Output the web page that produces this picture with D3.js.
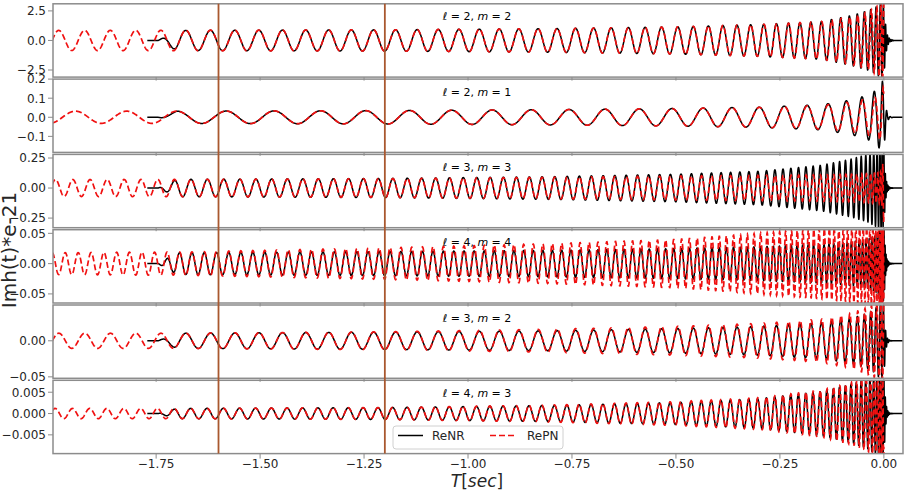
<!DOCTYPE html>
<html>
<head>
<meta charset="utf-8">
<script src="https://cdn.jsdelivr.net/npm/d3@7"></script>
<style>
  body { margin: 0; background: #fff; }
  text { font-family: "DejaVu Sans", sans-serif; }
</style>
</head>
<body>
<div id="chart"></div>
<script>
// x axis (time, s)
const xTicks = [-1.75, -1.5, -1.25, -1.0, -0.75, -0.5, -0.25, 0.0];
const markerTimes = [-1.6, -1.2];

// modes, one panel each
const modeL = [2, 2, 3, 4, 3, 4];
const modeM = [2, 1, 3, 4, 2, 3];
const yDomains = [[-3.1, 3.1], [-0.184, 0.2], [-0.33, 0.28], [-0.065, 0.056], [-0.052, 0.0496], [-0.0094, 0.0078]];
const yTicks = [[-2.5, 0, 2.5], [-0.1, 0, 0.1, 0.2], [-0.25, 0, 0.25], [-0.05, 0, 0.05], [-0.05, 0], [-0.005, 0, 0.005]];
const yDigits = [1, 1, 2, 2, 2, 3];

// (2,2) GW frequency (Hz), other modes run at m/2 of it
const freqT = [-2.0, -1.6, -1.2, -0.8, -0.5, -0.3, -0.15, -0.08, -0.04, -0.02, -0.01, -0.004, 0.0, 0.004, 0.01, 0.046];
const freq22 = [15.9, 17.0, 18.9, 22.0, 26.0, 31.5, 40.0, 50.0, 64.0, 82.0, 105.0, 140.0, 170.0, 220.0, 240.0, 250.0];
// PN phase lag against NR near merger (rad of the 22 phase)
const pnLagT = [-2.0, -0.4, -0.15, -0.05, -0.02, 0.0];
const pnLag = [0, 0, -0.15, -0.45, -0.9, -1.4];
// phase of each mode at the left edge
const phase0 = [-1.57, -2.81, -1.2, 0.0, -1.6, -1.06];

const nrStart = -1.772, nrEnd = 0.046, pnStart = -2.0, pnEnd = 0.0;

// envelopes
const envT = [-2.0, -1.772, -1.745, -1.70, -1.2, -0.8, -0.5, -0.3, -0.15, -0.08, -0.04, -0.02, -0.01, -0.004, 0.0, 0.004, 0.008, 0.014, 0.025, 0.046];
const nrAmp22 = [0, 0, 0, 0.85, 0.9, 1.0, 1.15, 1.35, 1.6, 2.1, 2.5, 2.8, 3.1, 3.3, 3.0, 1.4, 0.5, 0.12, 0, 0];
const pnAmp22 = [0.85, 0.86, 0.86, 0.87, 0.9, 1.0, 1.15, 1.35, 1.6, 2.0, 2.4, 2.8, 3.1, 3.4, 3.5, 0, 0, 0, 0, 0];
const nrAmp21 = [0, 0, 0, 0.032, 0.035, 0.04, 0.046, 0.053, 0.066, 0.09, 0.115, 0.14, 0.165, 0.19, 0.18, 0.07, 0.02, 0.004, 0, 0];
const pnAmp21 = [0.032, 0.032, 0.032, 0.032, 0.035, 0.04, 0.046, 0.052, 0.062, 0.08, 0.095, 0.105, 0.115, 0.13, 0.18, 0, 0, 0, 0, 0];
const nrAmp33 = [0, 0, 0, 0.072, 0.08, 0.095, 0.115, 0.14, 0.19, 0.24, 0.28, 0.32, 0.35, 0.36, 0.3, 0.1, 0.03, 0.005, 0, 0];
const pnAmp33 = [0.07, 0.072, 0.072, 0.072, 0.078, 0.09, 0.1, 0.105, 0.11, 0.115, 0.12, 0.125, 0.13, 0.15, 0.3, 0, 0, 0, 0, 0];
const nrAmp44 = [0, 0, 0, 0.018, 0.02, 0.022, 0.025, 0.028, 0.032, 0.036, 0.04, 0.046, 0.055, 0.065, 0.06, 0.02, 0.006, 0.001, 0, 0];
const pnAmp44 = [0.018, 0.019, 0.019, 0.019, 0.026, 0.033, 0.04, 0.05, 0.058, 0.064, 0.068, 0.07, 0.072, 0.075, 0.08, 0, 0, 0, 0, 0];
const nrAmp32 = [0, 0, 0, 0.0105, 0.012, 0.014, 0.017, 0.02, 0.025, 0.031, 0.038, 0.045, 0.052, 0.055, 0.05, 0.015, 0.004, 0.0005, 0, 0];
const pnAmp32 = [0.0105, 0.0105, 0.0105, 0.0105, 0.0125, 0.016, 0.02, 0.024, 0.03, 0.038, 0.046, 0.052, 0.056, 0.06, 0.06, 0, 0, 0, 0, 0];
const nrAmp43 = [0, 0, 0, 0.0012, 0.0014, 0.0019, 0.0026, 0.0035, 0.0052, 0.0068, 0.0082, 0.0095, 0.0105, 0.011, 0.01, 0.003, 0.0008, 0.0001, 0, 0];
const pnAmp43 = [0.0012, 0.0012, 0.0012, 0.0012, 0.0014, 0.002, 0.0028, 0.0037, 0.0055, 0.0072, 0.0088, 0.01, 0.011, 0.012, 0.012, 0, 0, 0, 0, 0];

const nrAmps = [nrAmp22, nrAmp21, nrAmp33, nrAmp44, nrAmp32, nrAmp43];
const pnAmps = [pnAmp22, pnAmp21, pnAmp33, pnAmp44, pnAmp32, pnAmp43];

const W = 904, H = 494;
const left = 53, right = 903, top0 = 3.8, pitch = 75.3, ph = 73.3;
const spine = "#8c8c8c", ink = "#262626", marker = "#a9582f", pnColor = "#f01010";

const svg = d3.select("#chart").append("svg")
  .attr("width", W).attr("height", H);

const x = d3.scaleLinear().domain([-1.998, 0.046]).range([left, right]);

const fScale = d3.scaleLinear().domain(freqT).range(freq22).clamp(true);
const lagScale = d3.scaleLinear().domain(pnLagT).range(pnLag).clamp(true);

// walk the 22 phase from the left edge, sample a mode between t0 and t1
function trace(k, amps, t0, t1, lagged) {
  const m = modeM[k];
  const aScale = d3.scaleLinear().domain(envT).range(amps).clamp(true);
  const pts = [];
  let t = -2.0, phi = 0;
  while (t <= t1) {
    if (t >= t0) {
      const psi = (phi + (lagged ? lagScale(t) : 0)) * m / 2 + phase0[k];
      pts.push([t, aScale(t) * Math.cos(psi)]);
    }
    const dt = Math.min(0.0008, 1 / (fScale(t) * m / 2 * 28));
    phi += 2 * Math.PI * fScale(t + dt / 2) * dt;
    t += dt;
  }
  return pts;
}

const defs = svg.append("defs");

modeM.forEach((m, k) => {
  const yTop = top0 + k * pitch;
  const y = d3.scaleLinear().domain(yDomains[k]).range([yTop + ph, yTop]);
  const g = svg.append("g");

  defs.append("clipPath").attr("id", "clip" + k)
    .append("rect").attr("x", left).attr("y", yTop).attr("width", right - left).attr("height", ph);

  const line = d3.line().x(d => x(d[0])).y(d => y(d[1]));
  const plot = g.append("g").attr("clip-path", `url(#clip${k})`);

  plot.append("path")
    .attr("d", line(trace(k, nrAmps[k], nrStart, nrEnd, false)))
    .attr("fill", "none").attr("stroke", "#000").attr("stroke-width", 1.5)
    .attr("stroke-linejoin", "round");

  plot.append("path")
    .attr("d", line(trace(k, pnAmps[k], pnStart, pnEnd, true)))
    .attr("fill", "none").attr("stroke", pnColor).attr("stroke-width", 1.7)
    .attr("stroke-dasharray", "6,3");

  // y axis
  const fmt = d3.format("." + yDigits[k] + "f");
  const yt = g.append("g");
  yTicks[k].forEach(v => {
    yt.append("line").attr("x1", left - 5).attr("x2", left)
      .attr("y1", y(v)).attr("y2", y(v)).attr("stroke", spine).attr("stroke-width", 1);
    yt.append("text").attr("x", left - 7).attr("y", y(v)).attr("dy", "0.36em")
      .attr("text-anchor", "end").attr("font-size", 12).attr("fill", ink)
      .text(fmt(v));
  });

  // x ticks on each panel
  xTicks.forEach(v => {
    g.append("line").attr("x1", x(v)).attr("x2", x(v))
      .attr("y1", yTop + ph).attr("y2", yTop + ph + (k === 5 ? 5 : 3.5))
      .attr("stroke", spine).attr("stroke-width", 1);
  });

  g.append("rect").attr("x", left).attr("y", yTop).attr("width", right - left).attr("height", ph)
    .attr("fill", "none").attr("stroke", spine).attr("stroke-width", 1.5);

  const lab = g.append("text").attr("x", 477).attr("y", yTop + 16.5)
    .attr("text-anchor", "middle").attr("font-size", 11).attr("fill", "#000");
  lab.append("tspan").attr("font-style", "italic").text("ℓ");
  lab.append("tspan").text(" = " + modeL[k] + ", ");
  lab.append("tspan").attr("font-style", "italic").text("m");
  lab.append("tspan").text(" = " + m);
});

// vertical markers across all panels
markerTimes.forEach(v => {
  svg.append("line").attr("x1", x(v)).attr("x2", x(v))
    .attr("y1", top0).attr("y2", top0 + 5 * pitch + ph)
    .attr("stroke", marker).attr("stroke-width", 1.8);
});

// bottom axis labels
const fmtX = d3.format(".2f");
xTicks.forEach(v => {
  svg.append("text").attr("x", x(v)).attr("y", 468)
    .attr("text-anchor", "middle").attr("font-size", 12).attr("fill", ink)
    .text(fmtX(v));
});

const xl = svg.append("text").attr("x", 477).attr("y", 487)
  .attr("text-anchor", "middle").attr("font-size", 17).attr("fill", ink);
xl.append("tspan").attr("font-style", "italic").text("T");
xl.append("tspan").text("[");
xl.append("tspan").attr("font-style", "italic").text("sec");
xl.append("tspan").text("]");

svg.append("text").attr("transform", "translate(16,250) rotate(-90)")
  .attr("text-anchor", "middle").attr("font-size", 20).attr("fill", ink)
  .text("Imh(t)*e-21");

// legend
const lg = svg.append("g").attr("transform", "translate(393,426)");
lg.append("rect").attr("width", 170).attr("height", 23).attr("rx", 3)
  .attr("fill", "#fff").attr("fill-opacity", 0.8).attr("stroke", "#d0d0d0");
lg.append("line").attr("x1", 5).attr("x2", 30).attr("y1", 9.5).attr("y2", 9.5)
  .attr("stroke", "#000").attr("stroke-width", 1.5);
lg.append("text").attr("x", 39).attr("y", 14).attr("font-size", 12).attr("fill", ink).text("ReNR");
lg.append("line").attr("x1", 97).attr("x2", 124).attr("y1", 9.5).attr("y2", 9.5)
  .attr("stroke", pnColor).attr("stroke-width", 1.7).attr("stroke-dasharray", "6,3");
lg.append("text").attr("x", 134).attr("y", 14).attr("font-size", 12).attr("fill", ink).text("RePN");
</script>
</body>
</html>
